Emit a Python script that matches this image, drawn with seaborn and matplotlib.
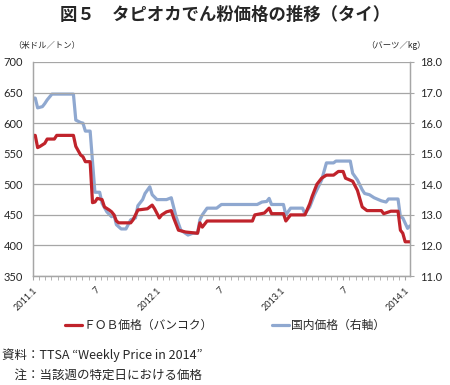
import pandas as pd
import matplotlib.pyplot as plt
import seaborn as sns
from matplotlib.ticker import MultipleLocator, FormatStrFormatter

# FOB価格（バンコク）, 米ドル／トン  -- 週番号 (2011年第1週=0)
fob_week = [0, 1, 2, 3, 5, 6, 9, 10, 17, 18, 20, 21, 22, 24, 25, 26, 27, 29, 30, 32,
            33, 34, 35, 36, 41, 42, 43, 44, 48, 50, 51, 53, 54, 56, 58, 59, 61, 64, 69, 70,
            71, 73, 92, 93, 97, 99, 100, 105, 106, 108, 114, 116, 117, 119, 121, 123, 126,
            128, 130, 131, 134, 136, 138, 140, 146, 147, 150, 153, 154, 155, 156, 158]
fob_price = [580, 580, 560, 562, 567, 574, 574, 580, 580, 562, 548, 545, 537, 537, 470, 471,
             477, 475, 463, 458, 455, 450, 440, 437, 437, 442, 450, 458, 460, 466, 460, 445,
             450, 455, 457, 445, 425, 422, 420, 437, 430, 440, 440, 450, 453, 461, 452, 452,
             440, 450, 450, 468, 480, 500, 510, 515, 515, 521, 521, 510, 505, 490, 463, 457,
             457, 452, 456, 456, 425, 420, 406, 406]

# 国内価格（右軸）, バーツ／kg
dom_week = [0, 1, 2, 4, 5, 6, 8, 17, 18, 20, 21, 22, 24, 26, 28, 29, 31, 33, 34, 35,
            37, 39, 41, 43, 44, 46, 47, 49, 50, 52, 56, 58, 60, 62, 65, 67, 69, 70, 71, 73,
            77, 79, 94, 96, 98, 99, 100, 105, 106, 108, 113, 114, 116, 118, 121, 123, 126,
            127, 133, 134, 136, 138, 139, 141, 143, 146, 148, 149, 153, 154, 155, 157, 158]
dom_price = [16.82, 16.82, 16.5, 16.54, 16.64, 16.76, 16.95, 16.95, 16.1, 16.02, 16.0, 15.74,
             15.74, 13.74, 13.74, 13.38, 13.1, 12.94, 13.0, 12.68, 12.54, 12.54, 12.84, 12.9,
             13.3, 13.5, 13.7, 13.92, 13.66, 13.5, 13.5, 13.56, 12.94, 12.5, 12.34, 12.4, 12.4,
             12.84, 13.0, 13.22, 13.22, 13.34, 13.34, 13.42, 13.44, 13.54, 13.34, 13.34, 13.0,
             13.22, 13.22, 13.04, 13.26, 13.66, 14.14, 14.7, 14.7, 14.76, 14.76, 14.36, 14.14,
             13.82, 13.7, 13.66, 13.56, 13.46, 13.42, 13.52, 13.52, 12.94, 12.9, 12.56, 12.64]

tick_week = [0, 26, 52, 78, 104, 130, 156]
tick_label = ['2011.1', '7', '2012.1', '7', '2013.1', '7', '2014.1']

df_fob = pd.DataFrame({'week': fob_week, 'price': fob_price})
df_dom = pd.DataFrame({'week': dom_week, 'price': dom_price})

sns.set_style('white')
plt.rcParams['font.family'] = ['Noto Sans CJK JP', 'DejaVu Sans']

red = '#c0232b'
blue = '#8fa8d0'
grid = '#a6a6a6'

fig = plt.figure(figsize=(4.5, 3.85), dpi=100)
ax = fig.add_axes([0.073, 0.283, 0.838, 0.556])
ax2 = ax.twinx()

sns.lineplot(data=df_fob, x='week', y='price', ax=ax, color=red, lw=2.3,
             label='ＦＯＢ価格（バンコク）', legend=False)
sns.lineplot(data=df_dom, x='week', y='price', ax=ax2, color=blue, lw=2.3,
             label='国内価格（右軸）', legend=False)

ax.set_xlim(0, 158)
ax.set_ylim(350, 700)
ax2.set_ylim(11, 18)
ax.yaxis.set_major_locator(MultipleLocator(50))
ax2.yaxis.set_major_locator(MultipleLocator(1))
ax2.yaxis.set_major_formatter(FormatStrFormatter('%.1f'))
ax.grid(axis='y', color=grid, lw=0.9)
ax.set_axisbelow(True)
ax.set_zorder(ax2.get_zorder() + 1)
ax.patch.set_visible(False)

ax.set_xticks(tick_week)
ax.set_xticklabels(tick_label, rotation=45, ha='right', rotation_mode='anchor',
                   fontsize=6.5, family='Lato')
ax.xaxis.set_minor_locator(MultipleLocator(2.6))
ax.tick_params(axis='x', which='both', direction='out', length=3, color=grid,
               bottom=True, pad=4)
ax.tick_params(axis='y', length=0, labelsize=8, pad=7)
ax2.tick_params(axis='y', length=3, color=grid, labelsize=8, right=True, pad=4)
for lab in ax.get_yticklabels() + ax2.get_yticklabels():
    lab.set_family('Lato')

for a in (ax, ax2):
    a.set_xlabel('')
    a.set_ylabel('')
    a.spines['top'].set_visible(False)
    for s in ('left', 'bottom', 'right'):
        a.spines[s].set_color(grid)
        a.spines[s].set_linewidth(0.9)

fig.text(0.5, 0.962, '図５　タピオカでん粉価格の推移（タイ）', ha='center', va='center',
         fontsize=12.5, fontweight='bold')
fig.text(0.03, 0.883, '（米ドル／トン）', ha='left', va='center', fontsize=6)
fig.text(0.945, 0.883, '（バーツ／kg）', ha='right', va='center', fontsize=6)

h1, l1 = ax.get_legend_handles_labels()
h2, l2 = ax2.get_legend_handles_labels()
fig.legend(h1 + h2, l1 + l2, loc='center', bbox_to_anchor=(0.5, 0.155), ncol=2,
           frameon=False, fontsize=8.5, handlelength=1.4, handletextpad=0.2,
           columnspacing=5)

fig.text(0.005, 0.078, '資料：TTSA “Weekly Price in 2014”', ha='left', va='center', fontsize=9)
fig.text(0.005, 0.024, '　注：当該週の特定日における価格', ha='left', va='center', fontsize=9)

fig.savefig('out.png', dpi=100)
